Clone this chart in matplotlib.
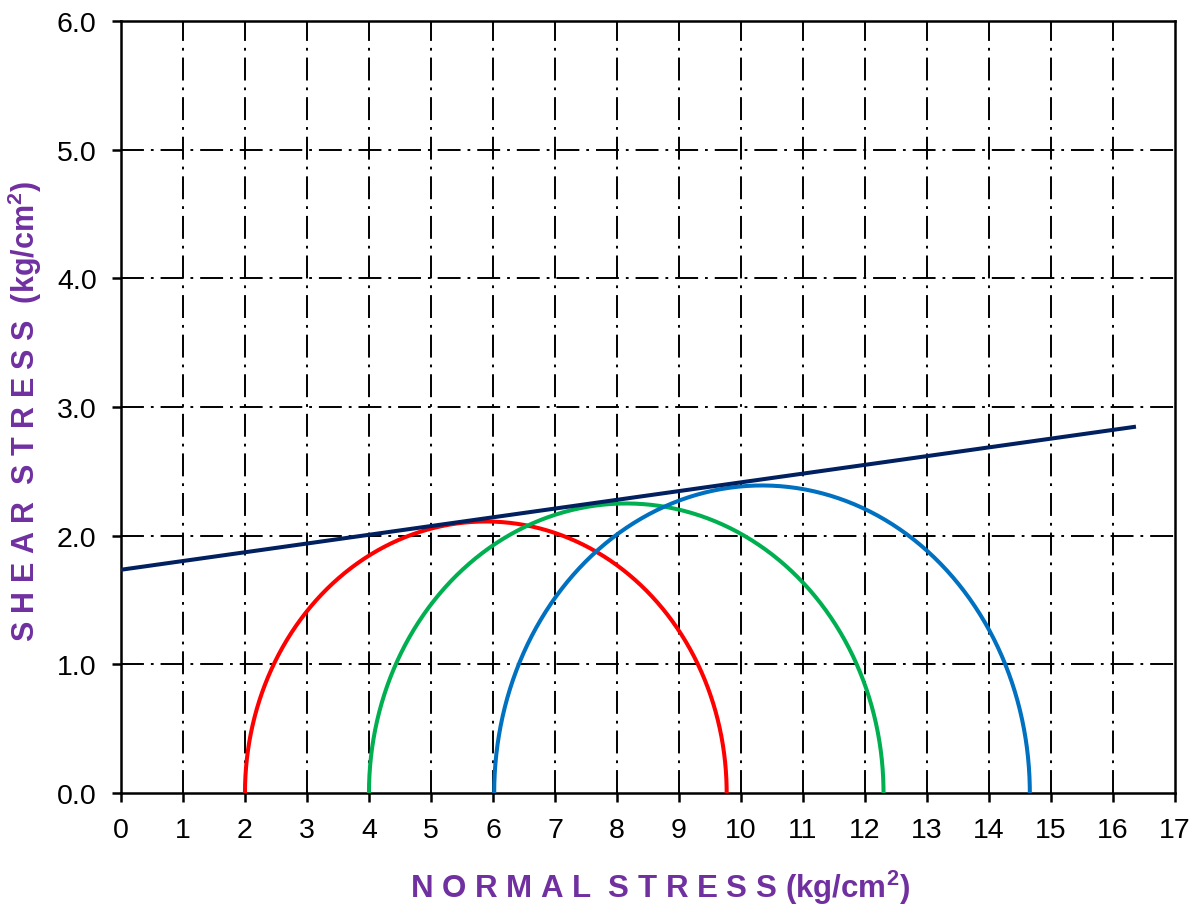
import numpy as np
import matplotlib
matplotlib.use("agg")
import matplotlib.pyplot as plt

# Mohr circles: minor / major principal stress and plotted peak height
sigma3 = [2.0, 4.0, 6.02]
sigma1 = [9.77, 12.3, 14.66]
peak = [2.11, 2.25, 2.39]
circle_colors = ["#FF0000", "#00B050", "#0070C0"]

# failure envelope end points
env_x = [0.0, 16.34]
env_y = [1.735, 2.845]

xticks = list(range(0, 18))
yticks = [0.0, 1.0, 2.0, 3.0, 4.0, 5.0, 6.0]

plt.rcParams['font.family'] = ['Liberation Sans', 'DejaVu Sans']
plt.rcParams['lines.scale_dashes'] = False
plt.rcParams['mathtext.fontset'] = 'custom'
plt.rcParams['mathtext.rm'] = 'Liberation Sans:bold'
plt.rcParams['mathtext.bf'] = 'Liberation Sans:bold'

fig = plt.figure(figsize=(11.99, 9.12), dpi=100)
ax = fig.add_axes([0.1009, 0.1294, 0.8790, 0.8465])

dashdot = (0, (16.5, 5, 2, 5))
for xv in xticks[1:-1]:
    ax.axvline(xv, color="black", lw=1.4, linestyle=dashdot, zorder=1)
for yv in yticks[1:-1]:
    ax.axhline(yv, color="black", lw=1.4, linestyle=dashdot, zorder=1)

t = np.linspace(0, np.pi, 300)
for s3, s1, h, c in zip(sigma3, sigma1, peak, circle_colors):
    cx = (s1 + s3) / 2.0
    r = (s1 - s3) / 2.0
    ax.plot(cx - r * np.cos(t), h * np.sin(t), color=c, lw=2.9, zorder=3)

ax.plot(env_x, env_y, color="#002060", lw=2.9, zorder=4)

ax.set_xlim(0, 17)
ax.set_ylim(0, 6)
ax.set_xticks(xticks)
ax.set_yticks(yticks)
ax.set_yticklabels(["%.1f" % v for v in yticks])
ax.tick_params(direction="out", length=6.5, width=1.8, labelsize=20.5, pad=11)
for sp in ax.spines.values():
    sp.set_linewidth(1.8)

ax.set_xlabel(r"N O R M A L  S T R E S S (kg/cm$^\mathrm{2}$)", fontsize=22.5,
              fontweight="bold", color="#7030A0", va="center")
ax.set_ylabel(r"S H E A R  S T R E S S  (kg/cm$^\mathrm{2}$)", fontsize=22,
              fontweight="bold", color="#7030A0", va="center")
ax.xaxis.set_label_coords(0.511, -0.122)
ax.yaxis.set_label_coords(-0.091, 0.495)

plt.savefig("out.png", dpi=100)
plt.close()
